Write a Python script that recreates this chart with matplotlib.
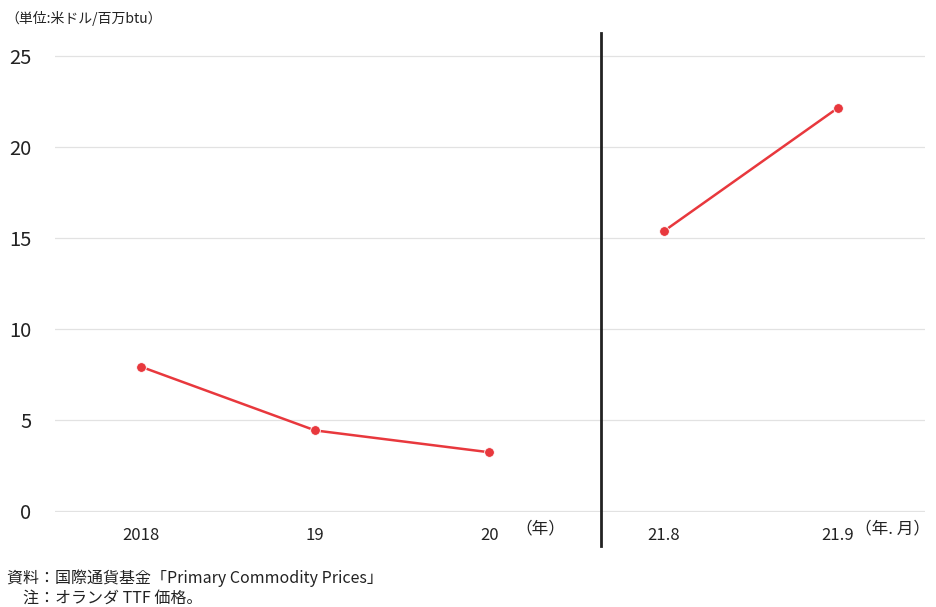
import matplotlib.pyplot as plt

plt.rcParams['font.family'] = ['Noto Sans CJK JP', 'DejaVu Sans']

# data
labels = ["2018", "19", "20", "21.8", "21.9"]
values = [7.93, 4.43, 3.23, 15.37, 22.15]
yticks = [0, 5, 10, 15, 20, 25]
split_at = 2.64  # vertical separator between annual and monthly data

red = "#e8383d"
ink = "#222222"

fig = plt.figure(figsize=(9.37, 6.07), dpi=100)
ax = fig.add_axes([0.0587, 0.1565, 0.9283, 0.7529])

xs = list(range(len(labels)))
ax.plot(xs[:3], values[:3], color=red, lw=1.8, marker="o", ms=7,
        mec="white", mew=0.6, zorder=3)
ax.plot(xs[3:], values[3:], color=red, lw=1.8, marker="o", ms=7,
        mec="white", mew=0.6, zorder=3)

ax.set_xlim(-0.493, 4.498)
ax.set_ylim(-0.05, 25.05)
ax.set_yticks(yticks)
ax.set_xticks(xs)
ax.set_xticklabels(labels)
ax.grid(axis="y", color="#e2e2e2", lw=0.9)
ax.set_axisbelow(True)
for s in ax.spines.values():
    s.set_visible(False)
ax.tick_params(length=0)
ax.tick_params(axis="y", labelsize=14.5, pad=17, colors=ink)
ax.tick_params(axis="x", labelsize=12, pad=11, colors=ink)

# separator line
ax.plot([split_at, split_at], [-1.91, 26.26], color=ink, lw=2,
        clip_on=False, zorder=4)

# unit labels on the x axis
ax.text(2.29, -1.0, "（年）", fontsize=12, ha="center", va="center", color=ink)
ax.text(4.53, -1.0, "（年. 月）", fontsize=12, ha="right", va="center", color=ink)

fig.text(0.006, 0.970, "（単位:米ドル/百万btu）", fontsize=10, ha="left", va="center",
         color=ink)
fig.text(0.008, 0.048, "資料：国際通貨基金「Primary Commodity Prices」", fontsize=11.5,
         ha="left", va="center", color=ink)
fig.text(0.008, 0.014, "　注：オランダ TTF 価格。", fontsize=11.5, ha="left",
         va="center", color=ink)

fig.savefig("out.png", dpi=100)
